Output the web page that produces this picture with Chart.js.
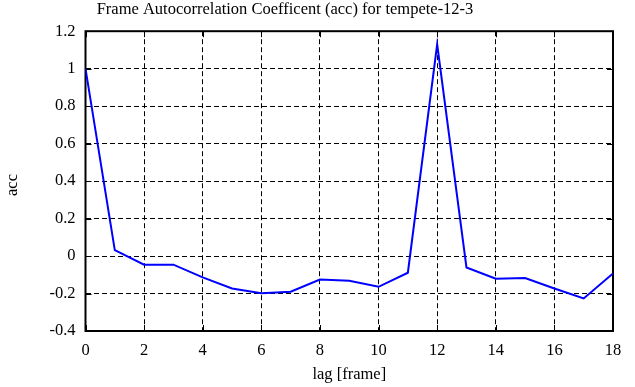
<!DOCTYPE html>
<html>
<head>
<meta charset="utf-8">
<script src="https://cdn.jsdelivr.net/npm/chart.js@4/dist/chart.umd.min.js"></script>
<style>
  html, body { margin: 0; padding: 0; background: #fff; }
  #wrap { width: 635px; height: 387px; }
</style>
</head>
<body>
<div id="wrap"><canvas id="c" width="635" height="387"></canvas></div>
<script>
const lags = [0, 1, 2, 3, 4, 5, 6, 7, 8, 9, 10, 11, 12, 13, 14, 15, 16, 17, 18];
const accValues = [1.0, 0.032, -0.046, -0.046, -0.114, -0.173, -0.199, -0.19, -0.125, -0.132, -0.164, -0.089, 1.13, -0.061, -0.121, -0.117, -0.173, -0.226, -0.093];
const xTickLabels = ['0', '2', '4', '6', '8', '10', '12', '14', '16', '18'];
const yTickLabels = ['-0.4', '-0.2', '0', '0.2', '0.4', '0.6', '0.8', '1', '1.2'];
const titleText = 'Frame Autocorrelation Coefficent (acc) for tempete-12-3';
const xTitle = 'lag [frame]';
const yTitle = 'acc';

const FONT = "'Liberation Serif', 'DejaVu Serif', serif";
const FS = 16.5;

const framePlugin = {
  id: 'frame',
  beforeDatasetsDraw(chart) {
    const {ctx, chartArea: a, scales} = chart;
    ctx.save();
    ctx.strokeStyle = '#000';
    ctx.lineWidth = 1;
    const tl = 6;
    ctx.beginPath();
    scales.x.ticks.forEach(t => {
      const px = Math.round(scales.x.getPixelForValue(t.value)) + 0.5;
      ctx.moveTo(px, a.bottom); ctx.lineTo(px, a.bottom - tl);
      ctx.moveTo(px, a.top); ctx.lineTo(px, a.top + tl);
    });
    scales.y.ticks.forEach(t => {
      const py = Math.round(scales.y.getPixelForValue(t.value)) + 0.5;
      ctx.moveTo(a.left, py); ctx.lineTo(a.left + tl, py);
      ctx.moveTo(a.right, py); ctx.lineTo(a.right - tl, py);
    });
    ctx.stroke();
    ctx.lineWidth = 2;
    ctx.strokeRect(a.left, a.top, a.right - a.left, a.bottom - a.top);
    ctx.restore();
  },
  afterDraw(chart) {
    const ctx = chart.ctx;
    ctx.save();
    ctx.fillStyle = '#000';
    ctx.font = FS + 'px ' + FONT;
    ctx.textAlign = 'center';
    ctx.textBaseline = 'middle';
    ctx.fillText(titleText, 285, 10);
    ctx.translate(13, 185);
    ctx.rotate(-Math.PI / 2);
    ctx.fillText(yTitle, 0, 0);
    ctx.restore();
  }
};

new Chart(document.getElementById('c'), {
  type: 'line',
  data: {
    datasets: [{
      data: lags.map((x, i) => ({x: x, y: accValues[i]})),
      borderColor: '#0000ff',
      borderWidth: 2,
      pointRadius: 0,
      tension: 0,
      fill: false
    }]
  },
  options: {
    responsive: false,
    animation: false,
    devicePixelRatio: 1,
    layout: { padding: { left: 0, right: 22, top: 31.2, bottom: 0 } },
    plugins: {
      legend: { display: false },
      tooltip: { enabled: false },
      title: { display: false }
    },
    scales: {
      x: {
        type: 'linear',
        min: 0, max: 18,
        afterFit: s => { s.height = 56; },
        afterBuildTicks: s => { s.ticks = xTickLabels.map(v => ({value: Number(v)})); },
        ticks: {
          color: '#000',
          font: { family: FONT, size: FS },
          padding: 10,
          maxRotation: 0,
          callback: (v, i) => xTickLabels[i]
        },
        grid: { color: '#000', lineWidth: 1, drawTicks: false },
        border: { display: false, dash: [5, 3] },
        title: {
          display: true, text: xTitle, color: '#000',
          font: { family: FONT, size: FS },
          padding: { top: 0, bottom: 2 }
        }
      },
      y: {
        type: 'linear',
        min: -0.4, max: 1.2,
        afterFit: s => { s.width = 85.5; },
        afterBuildTicks: s => { s.ticks = yTickLabels.map(v => ({value: Number(v)})); },
        ticks: {
          color: '#000',
          font: { family: FONT, size: FS },
          padding: 10,
          callback: (v, i) => yTickLabels[i]
        },
        grid: { color: '#000', lineWidth: 1, drawTicks: false },
        border: { display: false, dash: [5, 3] },
        title: { display: false }
      }
    }
  },
  plugins: [framePlugin]
});
</script>
</body>
</html>
